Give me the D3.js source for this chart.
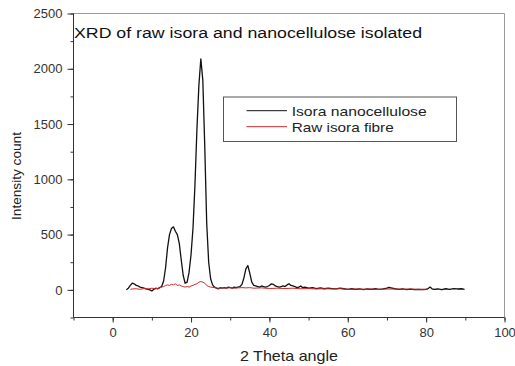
<!DOCTYPE html>
<html>
<head>
<meta charset="utf-8">
<script src="https://cdn.jsdelivr.net/npm/d3@7"></script>
<style>
  html, body { margin: 0; padding: 0; background: #fff; }
  svg { display: block; font-family: "Liberation Sans", Arial, sans-serif; }
</style>
</head>
<body>
<svg id="chart" width="515" height="366"></svg>
<script>
// ---- data ----
const chartTitle = "XRD of raw isora and nanocellulose isolated";
const xLabel = "2 Theta angle";
const yLabel = "Intensity count";
const seriesNames = ["Isora nanocellulose", "Raw isora fibre"];
const seriesColors = ["#111111", "#cc2a2a"];

const xTicks = [0, 20, 40, 60, 80, 100];
const yTicks = [0, 500, 1000, 1500, 2000, 2500];

const nanoAngle = [3.5,4,4.5,5,5.5,6,6.5,7,7.5,8,8.5,9,9.5,10,10.5,11,11.5,12,12.5,13,13.5,14,14.5,15,15.5,16,16.5,17,17.5,18,18.5,19,19.5,20,20.5,21,21.5,22,22.5,23,23.5,24,24.5,25,25.5,26,26.5,27,27.5,28,28.5,29,29.5,30,30.5,31,31.5,32,32.5,33,33.5,34,34.5,35,35.5,36,36.5,37,37.5,38,38.5,39,39.5,40,40.5,41,41.5,42,42.5,43,43.5,44,44.5,45,45.5,46,46.5,47,47.5,48,48.5,49,50,51,52,53,54,55,56,57,58,59,60,61,62,63,64,65,66,67,68,69,70,70.5,71,72,73,74,75,76,77,78,79,80,80.5,81,81.5,82,83,84,85,86,87,88,89,89.8];
const nanoCount = [0,15,40,60,55,40,35,25,20,15,10,5,0,-10,5,15,10,20,30,80,200,380,500,555,570,530,500,420,270,130,60,70,160,320,560,950,1450,1850,2090,1900,1300,600,250,100,45,25,15,10,20,15,20,15,25,20,15,25,20,25,30,50,110,190,220,150,70,40,35,30,25,35,30,25,30,40,55,50,35,30,25,30,35,30,45,55,40,35,30,20,25,35,20,25,15,20,12,18,10,15,12,8,15,10,5,10,5,8,3,8,5,10,5,8,15,22,18,10,5,8,3,6,2,5,3,5,12,25,10,5,8,3,10,5,12,8,10,5];

const rawAngle = [4.5,5,6,7,8,9,10,11,12,12.5,13,13.5,14,14.5,15,15.5,16,16.5,17,17.5,18,18.5,19,19.5,20,20.5,21,21.5,22,22.5,23,23.5,24,24.5,25,26,27,28,29,30,31,32,33,34,35,36,38,40,42,44,46,48,50,52,54,56,58,60,62,64,66,68,70,72,74,76,78,80.4];
const rawCount = [5,8,10,5,12,8,15,10,18,25,30,40,45,40,50,45,55,40,45,35,30,25,30,25,35,40,50,55,70,75,70,60,40,30,25,20,15,20,15,20,15,18,20,18,20,15,18,12,15,12,15,10,12,8,10,8,10,5,8,6,8,5,7,8,6,8,5,7];

// ---- layout ----
const svg = d3.select("#chart");
const mLeft = 73.5, mRight = 504.5, mTop = 13.5, mBottom = 317.5;

const x = d3.scaleLinear().domain([-10, 100]).range([mLeft, mRight]);
const y = d3.scaleLinear().domain([-250, 2500]).range([mBottom, mTop]);

// frame (top & right)
svg.append("path")
  .attr("d", `M${mLeft},${mTop}H${mRight}V${mBottom}`)
  .attr("fill", "none").attr("stroke", "#9a9a9a").attr("stroke-width", 1);

// x axis
const xAxisMinor = d3.axisBottom(x).tickValues(d3.range(-10, 101, 10)).tickSize(3).tickFormat("");
const xAxis = d3.axisBottom(x).tickValues(xTicks).tickSize(5).tickPadding(5).tickFormat(d3.format("d"));
svg.append("g").attr("transform", `translate(0,${mBottom})`).call(xAxisMinor)
  .call(g => g.select(".domain").remove())
  .selectAll("line").attr("stroke", "#333");
const gx = svg.append("g").attr("transform", `translate(0,${mBottom})`).call(xAxis);
gx.select(".domain").attr("stroke", "#333").attr("d", `M${mLeft},0H${mRight}`);
gx.selectAll("line").attr("stroke", "#333");
gx.selectAll("text").attr("font-size", 13).attr("fill", "#333")
  .attr("font-family", "Liberation Sans, Arial, sans-serif");

// y axis
const yAxisMinor = d3.axisLeft(y).tickValues(d3.range(-250, 2501, 250)).tickSize(3).tickFormat("");
const yAxis = d3.axisLeft(y).tickValues(yTicks).tickSize(6).tickPadding(5).tickFormat(d3.format("d"));
svg.append("g").attr("transform", `translate(${mLeft},0)`).call(yAxisMinor)
  .call(g => g.select(".domain").remove())
  .selectAll("line").attr("stroke", "#333");
const gy = svg.append("g").attr("transform", `translate(${mLeft},0)`).call(yAxis);
gy.select(".domain").attr("stroke", "#333").attr("d", `M0,${mTop}V${mBottom}`);
gy.selectAll("line").attr("stroke", "#333");
gy.selectAll("text").attr("font-size", 13).attr("fill", "#333")
  .attr("font-family", "Liberation Sans, Arial, sans-serif");

// axis titles
svg.append("text").attr("x", 289).attr("y", 361).attr("text-anchor", "middle")
  .attr("font-size", 15).attr("textLength", 98).attr("lengthAdjust", "spacingAndGlyphs")
  .attr("fill", "#222").text(xLabel);
svg.append("text").attr("transform", "translate(21,176) rotate(-90)").attr("text-anchor", "middle")
  .attr("font-size", 12.5).attr("textLength", 88).attr("lengthAdjust", "spacingAndGlyphs")
  .attr("fill", "#222").text(yLabel);

// title
svg.append("text").attr("x", 74).attr("y", 37.7).attr("font-size", 15.4)
  .attr("textLength", 348).attr("lengthAdjust", "spacingAndGlyphs")
  .attr("fill", "#111").text(chartTitle);

// lines
const line = d3.line().x(d => x(d[0])).y(d => y(d[1]));
const rawData = rawAngle.map((a, i) => [a, rawCount[i]]);
const nanoData = nanoAngle.map((a, i) => [a, nanoCount[i]]);
svg.append("path").datum(nanoData).attr("d", line).attr("fill", "none")
  .attr("stroke", seriesColors[0]).attr("stroke-width", 1.3).attr("stroke-linejoin", "round");
svg.append("path").datum(rawData).attr("d", line).attr("fill", "none")
  .attr("stroke", seriesColors[1]).attr("stroke-width", 1).attr("stroke-linejoin", "round");

// legend
const lg = svg.append("g");
lg.append("rect").attr("x", 223.5).attr("y", 97).attr("width", 233).attr("height", 44.5)
  .attr("fill", "#fff").attr("stroke", "#555").attr("stroke-width", 1);
const legendWidths = [135, 102];
seriesNames.forEach((n, i) => {
  const cy = 110.7 + i * 16;
  lg.append("line").attr("x1", 246.5).attr("x2", 287).attr("y1", cy).attr("y2", cy)
    .attr("stroke", seriesColors[i]).attr("stroke-width", 1);
  lg.append("text").attr("x", 291.7).attr("y", cy + 5.2).attr("font-size", 13)
    .attr("textLength", legendWidths[i]).attr("lengthAdjust", "spacingAndGlyphs")
    .attr("fill", "#222").text(n);
});
</script>
</body>
</html>
